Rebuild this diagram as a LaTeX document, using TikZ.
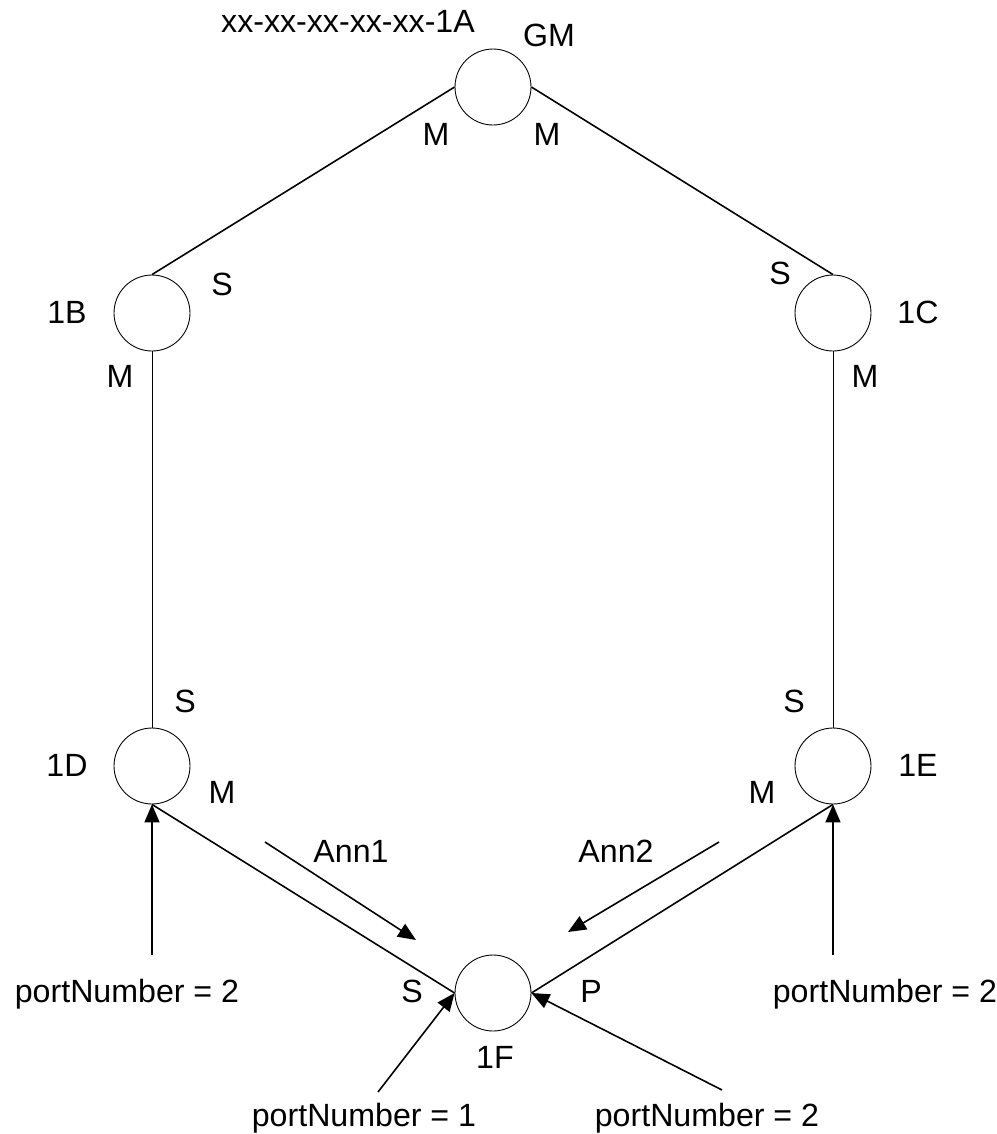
\documentclass[tikz,border=0pt]{standalone}
\usepackage{fontspec}
\setmainfont{Liberation Sans}
\usetikzlibrary{arrows.meta}

\begin{document}
\begin{tikzpicture}[x=0.02cm,y=-0.02cm]
        % Styles
        \tikzstyle{clock}=[draw,circle,line width=0.5pt,minimum size=1.52cm,inner sep=0pt]
        \tikzstyle{port}=[font=\fontsize{18.3}{21}\selectfont,anchor=base,inner sep=0pt]
        \tikzstyle{link}=[line width=0.9pt]
        \tikzstyle{thin link}=[line width=0.5pt]
        \tikzstyle{important line}=[line width=0.9pt,-{Triangle[length=0.36cm,width=0.3cm]}]
        \useasboundingbox (0,0) rectangle (997,1134);
        %The graphic
        %clocks
        \node[clock] (gm) at (493,87) {};
        \node[clock] (b) at (152,313) {};
        \node[clock] (c) at (833,313) {};
        \node[clock] (d) at (152,766) {};
        \node[clock] (e) at (833,766) {};
        \node[clock] (f) at (493,993) {};
        %names
        \node[port] (gm-id) at (348,32) {xx-xx-xx-xx-xx-1A};
        \node[port] (gm-name) at (549,46) {GM};
        \foreach \n/\x/\y/\t in {b/67/323/1B, c/918/323/1C, d/67/776/1D, e/918/776/1E, f/495/1068/1F}
            \node[port] (\n-name) at (\x,\y) {\t};
        %port states
        \foreach \n/\x/\y/\t in {gm-m1/436/145/M, gm-m2/547/145/M, b-s/222/295/S, b-m/120/387/M,
                                c-s/780/284/S, c-m/865/387/M, d-s/185/712/S, d-m/222/803/M,
                                e-s/794/712/S, e-m/762/803/M, f-s/412/1002/S, f-p/591/1002/P}
            \node[port] (\n) at (\x,\y) {\t};
        %links
        \draw[link] (gm.west) -- (b.north);
        \draw[link] (gm.east) -- (c.north);
        \draw[thin link] (b.south) -- (d.north);
        \draw[thin link] (c.south) -- (e.north);
        \draw[link] (d.south) -- (f.west);
        \draw[link] (e.south) -- (f.east);
        %port numbers
        \coordinate (pd) at (152,955);
        \coordinate (pe) at (833,955);
        \coordinate (pf1) at (378,1092);
        \coordinate (pf2) at (722,1090);
        \draw[important line] (pd) -- (d.south);
        \draw[important line] (pe) -- (e.south);
        \draw[important line] (pf1) -- (f.west);
        \draw[important line] (pf2) -- (f.east);
        \node[port] (pd-text) at (127,1002) {portNumber = 2};
        \node[port] (pe-text) at (885,1002) {portNumber = 2};
        \node[port] (pf1-text) at (364,1126) {portNumber = 1};
        \node[port] (pf2-text) at (707,1126) {portNumber = 2};
        %announce messages
        \coordinate (ann1-start) at (265,842);
        \coordinate (ann1-end) at (416,940);
        \coordinate (ann2-start) at (719,842);
        \coordinate (ann2-end) at (568,932);
        \draw[important line] (ann1-start) -- (ann1-end);
        \draw[important line] (ann2-start) -- (ann2-end);
        \node[port] (ann1) at (351,862) {Ann1};
        \node[port] (ann2) at (616,862) {Ann2};
\end{tikzpicture}
\end{document}
